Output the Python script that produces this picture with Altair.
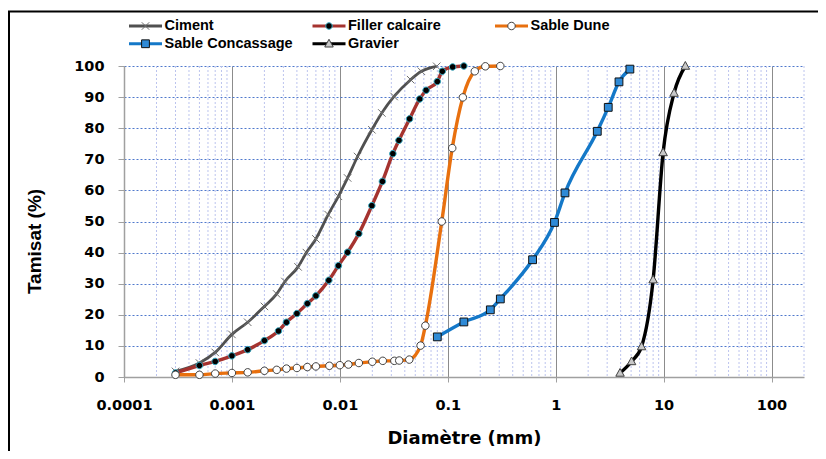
import altair as alt
import pandas as pd

series_names = ["Ciment", "Filler calcaire", "Sable Dune", "Sable Concassage", "Gravier"]

ciment_x = [0.0003, 0.0005, 0.0007, 0.001, 0.0014, 0.002, 0.0026, 0.0031, 0.0041, 0.0049,
            0.006, 0.0078, 0.0097, 0.0118, 0.0146, 0.0198, 0.0245, 0.0318, 0.0453, 0.057, 0.079]
ciment_y = [1.8, 4.5, 7.9, 13.7, 17.6, 22.7, 26.7, 30.7, 35.4, 40.0,
            44.4, 52.2, 58.1, 64.0, 70.9, 79.5, 84.9, 90.2, 95.6, 98.3, 99.9]

filler_x = [0.0003, 0.0005, 0.0007, 0.001, 0.0014, 0.002, 0.0027, 0.0032, 0.004, 0.005,
            0.006, 0.0079, 0.0097, 0.0118, 0.015, 0.0198, 0.0248, 0.031, 0.0353, 0.0443,
            0.055, 0.063, 0.08, 0.089, 0.111, 0.141]
filler_y = [1.3, 3.7, 5.0, 6.8, 8.8, 11.7, 14.8, 17.6, 20.4, 23.6,
            26.1, 31.1, 35.8, 40.1, 46.1, 55.1, 62.9, 71.8, 76.1, 83.0,
            89.4, 92.2, 95.0, 98.3, 99.7, 100.0]

dune_x = [0.0003, 0.0005, 0.0007, 0.001, 0.0014, 0.002, 0.0026, 0.0032, 0.004, 0.005,
          0.006, 0.008, 0.01, 0.012, 0.015, 0.02, 0.025, 0.032, 0.0355, 0.044,
          0.056, 0.062, 0.088, 0.11, 0.138, 0.178, 0.223, 0.307]
dune_y = [0.7, 0.7, 1.1, 1.3, 1.5, 2.0, 2.3, 2.7, 2.9, 3.2,
          3.4, 3.6, 3.8, 4.0, 4.5, 4.9, 5.2, 5.2, 5.3, 5.6,
          10.1, 16.5, 50.0, 73.6, 89.9, 98.3, 99.9, 100.0]

concassage_x = [0.08, 0.141, 0.248, 0.307, 0.611, 0.975, 1.22, 2.43, 3.07, 3.86, 4.87]
concassage_y = [12.9, 17.7, 21.6, 25.1, 37.7, 49.7, 59.2, 79.0, 86.7, 94.9, 99.0]

gravier_x = [3.95, 5.05, 6.25, 8.0, 9.9, 12.5, 15.9]
gravier_y = [1.3, 5.0, 9.8, 31.3, 72.2, 91.3, 100.0]

x_ticks = [0.0001, 0.001, 0.01, 0.1, 1, 10, 100]
x_minor = [m * 10.0 ** e for e in range(-4, 3) for m in range(2, 10) if m * 10.0 ** e <= 200]
y_ticks = [0, 10, 20, 30, 40, 50, 60, 70, 80, 90, 100]

# styles
line_colors = ["#505050", "#A5332F", "#E8700F", "#1478C8", "#000000"]
line_widths = [2.8, 3.4, 3.4, 3.4, 3.4]
marker_fill = ["#666666", "#000000", "#FFFFFF", "#2F8AD6", "#C8C8C8"]
marker_stroke = ["#6E6E6E", "#2FA7C0", "#404040", "#111111", "#404040"]
EXT = "M-3.5,-1.65M3.5,1.65"
marker_paths = [
    EXT + "M-0.75,-0.75L0.75,0.75M-0.75,0.75L0.75,-0.75",
    EXT + "M-0.65,0A0.65,0.65 0 1,0 0.65,0A0.65,0.65 0 1,0 -0.65,0Z",
    EXT + "M-0.75,0A0.75,0.75 0 1,0 0.75,0A0.75,0.75 0 1,0 -0.75,0Z",
    EXT + "M-0.78,-0.78L0.78,-0.78L0.78,0.78L-0.78,0.78Z",
    EXT + "M0,-0.9L0.85,0.65L-0.85,0.65Z",
]
LINE_SYM = "M-3.3,-1.45M3.3,1.45M-3.3,0L3.3,0"
legend_x = [14.25, 197.75, 380.25, 14.25, 197.75]
legend_y = [-47.25, -47.25, -47.25, -29.5, -29.5]

all_x = [ciment_x, filler_x, dune_x, concassage_x, gravier_x]
all_y = [ciment_y, filler_y, dune_y, concassage_y, gravier_y]

x_scale = alt.Scale(type="log", domain=[0.0001, 200], nice=False)
y_scale = alt.Scale(domain=[0, 100], nice=False)

y_axis = alt.Axis(values=y_ticks, title="Tamisat (%)", grid=True, gridColor="#4F78CC",
                  gridDash=[2, 2], gridWidth=1, domainColor="#A0A0A0", domainWidth=1.5,
                  tickColor="#A0A0A0", tickSize=6, labelPadding=14,
                  labelFont="DejaVu Sans", labelFontSize=14.5, labelFontWeight="bold",
                  labelColor="#000000", titleFont="Liberation Sans", titleFontSize=19,
                  titleFontWeight="bold", titleColor="#000000", titleX=-90, titleY=175,
                  titleAlign="center", titleBaseline="middle", titleAngle=270)

x_axis = alt.Axis(values=x_ticks, format="~g", title="Diamètre (mm)", grid=True,
                  gridColor="#8C8C8C", gridWidth=1, domainColor="#A0A0A0", domainWidth=1.5,
                  tickColor="#A0A0A0", tickSize=5, labelPadding=16,
                  labelFont="DejaVu Sans", labelFontSize=14.5, labelFontWeight="bold",
                  labelColor="#000000", labelFlush=False, titleFont="DejaVu Sans",
                  titleFontSize=18, titleFontWeight="bold", titleColor="#000000",
                  titleY=61, titleBaseline="middle")


def legend_for(i, marker):
    common = dict(orient="none", legendX=legend_x[i], legendY=legend_y[i], padding=0,
                  title=None, symbolSize=100, labelFont="Liberation Sans", labelFontSize=14.5,
                  labelFontWeight="bold", labelColor="#000000", labelOffset=11.75,
                  labelLimit=300)
    if marker:
        return alt.Legend(symbolStrokeWidth=1, labelExpr="''", **common)
    return alt.Legend(symbolType=LINE_SYM, symbolStrokeWidth=3, **common)


minor_df = pd.DataFrame({"d": x_minor})
minor = alt.Chart(minor_df).mark_rule(color="#BCC4EE", strokeDash=[2, 2], strokeWidth=1).encode(
    x=alt.X("d:Q", scale=x_scale, axis=x_axis))

line_layers = []
point_layers = []
for i, name in enumerate(series_names):
    sub = pd.DataFrame({"series": name, "d": all_x[i], "t": all_y[i]})
    line_layers.append(
        alt.Chart(sub).mark_line(interpolate="monotone", strokeWidth=line_widths[i]).encode(
            x=alt.X("d:Q", scale=x_scale, axis=x_axis),
            y=alt.Y("t:Q", scale=y_scale, axis=y_axis),
            color=alt.Color("series:N", scale=alt.Scale(domain=[name], range=[line_colors[i]]),
                            legend=legend_for(i, False)),
        )
    )
    mleg = legend_for(i, True)
    point_layers.append(
        alt.Chart(sub).mark_point(filled=True, size=100, strokeWidth=1, opacity=1).encode(
            x=alt.X("d:Q", scale=x_scale, axis=x_axis),
            y=alt.Y("t:Q", scale=y_scale, axis=y_axis),
            shape=alt.Shape("series:N", scale=alt.Scale(domain=[name], range=[marker_paths[i]]),
                            legend=mleg),
            fill=alt.Fill("series:N", scale=alt.Scale(domain=[name], range=[marker_fill[i]]),
                          legend=mleg),
            stroke=alt.Stroke("series:N", scale=alt.Scale(domain=[name], range=[marker_stroke[i]]),
                              legend=mleg),
        )
    )

one = pd.DataFrame({"k": [0]})
frame_left = alt.Chart(one).mark_rule(color="#000000", strokeWidth=2).encode(
    x=alt.value(-115), y=alt.value(-55), y2=alt.value(385))
frame_top = alt.Chart(one).mark_rule(color="#000000", strokeWidth=2).encode(
    x=alt.value(-116), x2=alt.value(694), y=alt.value(-54.5))

chart = alt.layer(minor, *line_layers, *point_layers, frame_left, frame_top).resolve_scale(
    color="independent", shape="independent", fill="independent", stroke="independent"
).properties(
    width=680, height=311,
    padding={"left": 116, "top": 58, "right": 14, "bottom": 74},
    autosize=alt.AutoSizeParams(type="none"),
    background="#FFFFFF",
).configure_view(stroke=None)

chart.save("out.html", embed_options={"renderer": "svg", "actions": False})
